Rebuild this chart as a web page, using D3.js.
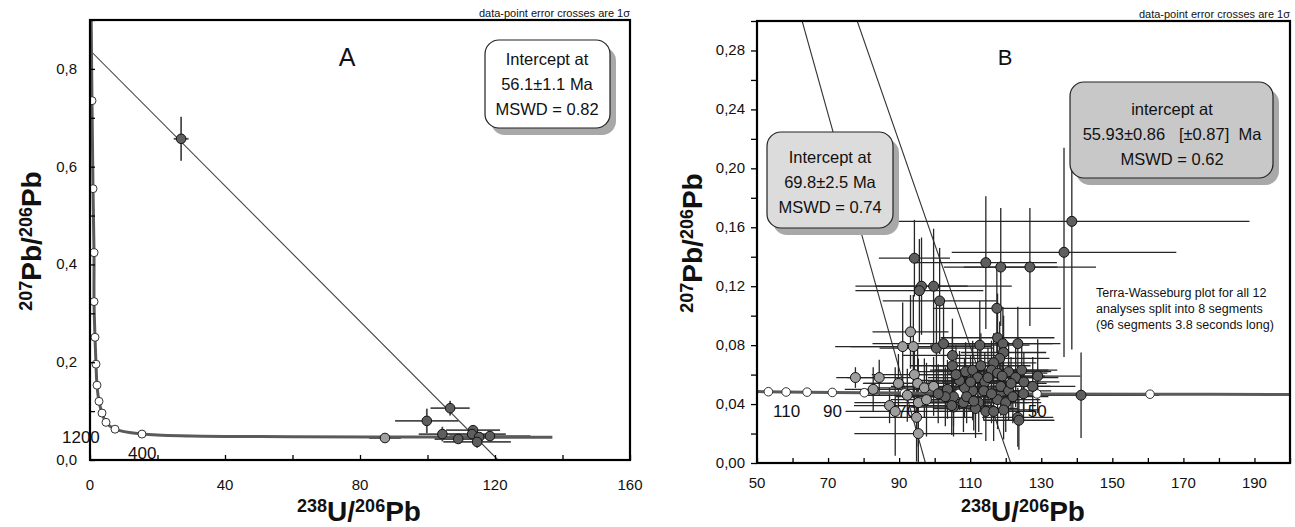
<!DOCTYPE html>
<html>
<head>
<meta charset="utf-8">
<script src="https://cdn.jsdelivr.net/npm/d3@7"></script>
<style>
body { margin: 0; background: #fff; }
svg { display: block; }
text { font-family: "Liberation Sans", Arial, sans-serif; }
</style>
</head>
<body>
<svg id="chart" width="1295" height="527"></svg>
<script>

// ---- panel A ----
var concA_x = [0.35, 0.59, 0.89, 1.19, 1.19, 1.48, 1.78, 2.07, 2.67, 3.56, 4.74, 7.41, 15.4, 30, 60, 100, 137];
var concA_y = [0.90, 0.735, 0.555, 0.424, 0.324, 0.251, 0.196, 0.153, 0.120, 0.096, 0.077, 0.063, 0.053, 0.049, 0.0478, 0.0470, 0.0465];
var concA_mark = [0, 1, 1, 1, 1, 1, 1, 1, 1, 1, 1, 1, 1, 0, 0, 0, 0];

var regA_x = [0, 120.9];
var regA_y = [0.838, 0];

var ptsA_x  = [27.0, 106.7, 99.8, 104.4, 87.4, 109.1, 113.5, 113.2, 115.3, 118.5, 114.7];
var ptsA_y  = [0.657, 0.106, 0.080, 0.053, 0.045, 0.043, 0.061, 0.053, 0.047, 0.049, 0.037];
var ptsA_ex = [2.2, 5.8, 9.4, 7.0, 4.7, 7.0, 8.0, 10.0, 9.0, 12.0, 10.0];
var ptsA_ey = [0.045, 0.015, 0.025, 0.015, 0.004, 0.008, 0.010, 0.010, 0.008, 0.008, 0.012];
var ptsA_light = [0, 0, 0, 0, 1, 0, 0, 0, 0, 0, 0];

// ---- panel B ----
var concB_x = [50, 53.2, 58.2, 64.1, 71.2, 80.2, 91.5, 106.8, 128.8, 160.6, 200];
var concB_y = [0.0485, 0.0484, 0.0482, 0.0481, 0.0479, 0.0477, 0.0475, 0.0472, 0.0469, 0.0467, 0.0465];
var concB_mark = [0, 1, 1, 1, 1, 1, 1, 1, 1, 1, 0];
var concB_lab = ["110", "90", "70", "50"];
var concB_labX = [54.5, 68.6, 89.5, 126.2];
var concB_labY = [0.031, 0.031, 0.031, 0.031];

var regB1_x = [62.7, 97.4];
var regB1_y = [0.30, 0];
var regB2_x = [78.2, 121.4];
var regB2_y = [0.30, 0];

var ptsB_x = [77.7, 84.4, 82.7, 89.8, 92.3, 87.3, 88.9, 94.3, 95.2, 97.1, 99.7, 95.4, 97.7, 94.9, 95.4, 93.2, 91.0, 94.0,
  138.6, 136.4, 94.3, 114.4, 118.6, 126.8, 96.3, 95.7, 99.7, 101.4, 117.5, 117.7, 112.7, 123.4, 119.2, 100.5, 102.5,
  105.0, 105.0, 119.4, 118.3, 116.6, 108.7, 110.7, 112.1, 116.0, 117.7, 120.8, 124.5, 129.0, 122.8, 125.1, 127.6,
  141.2, 114.1, 118.6, 120.8, 113.8, 110.7, 108.4, 105.3, 105.3, 108.1, 112.4, 117.7, 120.0, 111.5, 114.4, 116.6,
  119.4, 123.4, 123.7, 103.6, 104.8, 110.1, 115.0, 121.5, 107.0, 113.0, 119.0, 109.0, 116.0, 122.0, 111.0, 106.0,
  125.0, 103.0, 101.0];
var ptsB_y = [0.058, 0.058, 0.050, 0.054, 0.046, 0.039, 0.035, 0.060, 0.054, 0.051, 0.052, 0.041, 0.043, 0.031, 0.020, 0.089, 0.079, 0.079,
  0.164, 0.143, 0.139, 0.136, 0.133, 0.133, 0.120, 0.117, 0.120, 0.110, 0.105, 0.085, 0.080, 0.081, 0.081, 0.078, 0.081,
  0.073, 0.066, 0.075, 0.071, 0.068, 0.062, 0.063, 0.058, 0.063, 0.061, 0.062, 0.063, 0.059, 0.058, 0.055, 0.052,
  0.046, 0.055, 0.052, 0.049, 0.049, 0.049, 0.051, 0.045, 0.038, 0.041, 0.041, 0.043, 0.041, 0.037, 0.035, 0.035,
  0.036, 0.031, 0.029, 0.050, 0.039, 0.055, 0.058, 0.054, 0.056, 0.066, 0.059, 0.045, 0.047, 0.045, 0.042, 0.060,
  0.047, 0.045, 0.047];
var ptsB_ex = [5.4, 9, 8, 10, 12, 10, 14, 12, 15, 14, 12, 18, 10, 16, 18, 10.7, 14.7, 22,
  50, 31.6, 10, 20, 16, 18.6, 13, 18, 22, 16, 18, 16, 14, 12, 14, 16, 20,
  14, 12, 12, 14, 12, 14, 12, 14, 16, 14, 12, 10, 12, 12, 10, 12,
  22, 12, 14, 12, 12, 14, 12, 14, 12, 14, 14, 12, 10, 12, 14, 12,
  10, 10, 10, 14, 12, 12, 14, 10, 12, 14, 12, 12, 14, 10, 12, 12,
  10, 14, 12];
var ptsB_ey = [0.007, 0.012, 0.015, 0.020, 0.018, 0.012, 0.030, 0.020, 0.025, 0.020, 0.020, 0.030, 0.025, 0.030, 0.030, 0.025, 0.030, 0.035,
  0.087, 0.071, 0.026, 0.045, 0.040, 0.040, 0.033, 0.035, 0.039, 0.036, 0.030, 0.030, 0.030, 0.025, 0.025, 0.030, 0.030,
  0.025, 0.020, 0.025, 0.025, 0.020, 0.020, 0.020, 0.020, 0.020, 0.020, 0.020, 0.020, 0.025, 0.020, 0.020, 0.020,
  0.029, 0.020, 0.020, 0.020, 0.020, 0.020, 0.020, 0.020, 0.020, 0.020, 0.020, 0.020, 0.020, 0.020, 0.020, 0.020,
  0.020, 0.020, 0.020, 0.020, 0.020, 0.018, 0.020, 0.018, 0.020, 0.022, 0.020, 0.018, 0.020, 0.018, 0.020, 0.020,
  0.018, 0.020, 0.020];
var ptsB_light = [1, 1, 1, 1, 1, 1, 1, 1, 1, 1, 1, 1, 1, 1, 1, 1, 1, 1];

var svg = d3.select("#chart");

var DARK = "#5e5e5e", LIGHT = "#9e9e9e";

function zipPts(xs, ys, exs, eys, light) {
	var out = [];
	for (var i = 0; i < xs.length; i++) {
		out.push({x: xs[i], y: ys[i], ex: exs[i], ey: eys[i], light: !!light[i]});
	}
	return out;
}

function fmtComma(spec) {
	var f = d3.format(spec);
	return function(d) { return f(d).replace(".", ","); };
}

function drawFrame(g, x, y, cfg) {
	var x0 = x.range()[0], x1 = x.range()[1], y0 = y.range()[0], y1 = y.range()[1];

	var xMinor = d3.range(cfg.xDom[0], cfg.xDom[1] + 0.0001, cfg.xMinor);
	var yMinor = d3.range(cfg.yDom[0], cfg.yDom[1] + 0.0001, cfg.yMinor);

	// bottom ticks point inward
	g.append("g").attr("transform", "translate(0," + y0 + ")")
		.call(d3.axisBottom(x).tickValues(xMinor).tickSize(-5).tickFormat(""))
		.call(function(a) { a.select(".domain").remove(); a.selectAll("line").attr("stroke", "#000").attr("stroke-width", 1.3); });
	g.append("g").attr("transform", "translate(" + x0 + ",0)")
		.call(d3.axisLeft(y).tickValues(yMinor).tickSize(cfg.yTickIn ? -5 : 6).tickFormat(""))
		.call(function(a) { a.select(".domain").remove(); a.selectAll("line").attr("stroke", "#000").attr("stroke-width", 1.3); });

	g.selectAll("text.xtick").data(cfg.xTicks).enter().append("text")
		.attr("x", function(d) { return x(d); })
		.attr("y", cfg.xLabY)
		.attr("text-anchor", "middle")
		.attr("font-size", 15)
		.attr("fill", "#111")
		.text(cfg.xFmt);

	g.selectAll("text.ytick").data(cfg.yTicks).enter().append("text")
		.attr("x", cfg.yLabX)
		.attr("y", function(d) { return y(d) + 5; })
		.attr("text-anchor", "end")
		.attr("font-size", 15)
		.attr("fill", "#111")
		.text(cfg.yFmt);

	g.append("rect")
		.attr("x", x0).attr("y", y1)
		.attr("width", x1 - x0).attr("height", y0 - y1)
		.attr("fill", "none").attr("stroke", "#000").attr("stroke-width", 2.2);

	g.append("text")
		.attr("x", x1).attr("y", y1 - 3)
		.attr("text-anchor", "end")
		.attr("font-size", 11)
		.attr("fill", "#111")
		.html("data-point error crosses are 1&#963;");

	var yt = g.append("text")
		.attr("transform", "translate(" + cfg.yTitleX + "," + ((y0 + y1) / 2 + 1) + ") rotate(-90)")
		.attr("text-anchor", "middle")
		.attr("font-weight", "bold")
		.attr("fill", "#111");
	yt.append("tspan").attr("font-size", 18).attr("dy", -9).text("207");
	yt.append("tspan").attr("font-size", 28).attr("dy", 9).text("Pb/");
	yt.append("tspan").attr("font-size", 18).attr("dy", -9).text("206");
	yt.append("tspan").attr("font-size", 28).attr("dy", 9).text("Pb");

	var xt = g.append("text")
		.attr("x", cfg.xTitleX).attr("y", 521)
		.attr("text-anchor", "middle")
		.attr("font-weight", "bold")
		.attr("fill", "#111");
	xt.append("tspan").attr("font-size", 18).attr("dy", -9).text("238");
	xt.append("tspan").attr("font-size", 28).attr("dy", 9).text("U/");
	xt.append("tspan").attr("font-size", 18).attr("dy", -9).text("206");
	xt.append("tspan").attr("font-size", 28).attr("dy", 9).text("Pb");
}

function drawBox(g, bx, by, bw, bh, fill, lines, cx, base) {
	g.append("rect")
		.attr("x", bx + 6).attr("y", by + 7)
		.attr("width", bw).attr("height", bh)
		.attr("rx", 14).attr("ry", 14)
		.attr("fill", "#a8a8a8");
	g.append("rect")
		.attr("x", bx).attr("y", by)
		.attr("width", bw).attr("height", bh)
		.attr("rx", 14).attr("ry", 14)
		.attr("fill", fill).attr("stroke", "#222").attr("stroke-width", 1.2);
	g.selectAll(null).data(lines).enter().append("text")
		.attr("x", cx)
		.attr("y", function(d, i) { return base + i * 25; })
		.attr("text-anchor", "middle")
		.attr("font-size", 16.5)
		.attr("fill", "#111")
		.style("white-space", "pre")
		.text(function(d) { return d; });
}

function drawErrors(g, x, y, pts, color, width) {
	var eb = g.append("g").attr("stroke", color).attr("stroke-width", width);
	eb.selectAll("line.h").data(pts).enter().append("line")
		.attr("x1", function(d) { return x(d.x - d.ex); })
		.attr("x2", function(d) { return x(d.x + d.ex); })
		.attr("y1", function(d) { return y(d.y); })
		.attr("y2", function(d) { return y(d.y); });
	eb.selectAll("line.v").data(pts).enter().append("line")
		.attr("x1", function(d) { return x(d.x); })
		.attr("x2", function(d) { return x(d.x); })
		.attr("y1", function(d) { return y(d.y - d.ey); })
		.attr("y2", function(d) { return y(d.y + d.ey); });
}

function drawPoints(g, x, y, pts, r) {
	g.selectAll(null).data(pts).enter().append("circle")
		.attr("cx", function(d) { return x(d.x); })
		.attr("cy", function(d) { return y(d.y); })
		.attr("r", r)
		.attr("fill", function(d) { return d.light ? LIGHT : DARK; })
		.attr("stroke", "#111").attr("stroke-width", 1);
}

function drawConcordia(g, x, y, cx, cy, mark, r) {
	var line = d3.line().curve(d3.curveCatmullRom.alpha(0.5))
		.x(function(d) { return x(d[0]); })
		.y(function(d) { return y(d[1]); });
	var pts = cx.map(function(v, i) { return [v, cy[i]]; });
	g.append("path").attr("d", line(pts))
		.attr("fill", "none").attr("stroke", "#5a5a5a").attr("stroke-width", 3);
	g.selectAll(null).data(pts.filter(function(d, i) { return mark[i]; })).enter().append("circle")
		.attr("cx", function(d) { return x(d[0]); })
		.attr("cy", function(d) { return y(d[1]); })
		.attr("r", r)
		.attr("fill", "#fff").attr("stroke", "#333").attr("stroke-width", 1);
}

function drawReg(g, x, y, xs, ys, color) {
	g.append("line")
		.attr("x1", x(xs[0])).attr("y1", y(ys[0]))
		.attr("x2", x(xs[1])).attr("y2", y(ys[1]))
		.attr("stroke", color).attr("stroke-width", 1.1);
}

// ---------- panel A ----------
var xA = d3.scaleLinear().domain([0, 160]).range([90, 630]);
var yA = d3.scaleLinear().domain([0, 0.9]).range([460, 20]);
var gA = svg.append("g");

svg.append("clipPath").attr("id", "clipA").append("rect")
	.attr("x", 90).attr("y", 20).attr("width", 540).attr("height", 440);
var pA = gA.append("g").attr("clip-path", "url(#clipA)");

drawReg(pA, xA, yA, regA_x, regA_y, "#444");
var ptsA = zipPts(ptsA_x, ptsA_y, ptsA_ex, ptsA_ey, ptsA_light);
drawErrors(pA, xA, yA, ptsA, "#4a4a4a", 1.8);
drawConcordia(pA, xA, yA, concA_x, concA_y, concA_mark, 4);
drawPoints(pA, xA, yA, ptsA, 4.8);

gA.append("text").attr("x", 62).attr("y", 443).attr("font-size", 17).attr("fill", "#111").text("1200");
gA.append("text").attr("x", 128).attr("y", 459).attr("font-size", 17).attr("fill", "#111").text("400");

drawFrame(gA, xA, yA, {
	xDom: [0, 160], yDom: [0, 0.9], xMinor: 20, yMinor: 0.1,
	xTicks: [0, 40, 80, 120, 160], yTicks: [0, 0.2, 0.4, 0.6, 0.8],
	xFmt: d3.format("d"), yFmt: fmtComma(".1f"),
	xLabY: 490, yLabX: 77, yTickIn: true,
	yTitleX: 41, xTitleX: 359
});

gA.append("text").attr("x", 347).attr("y", 66).attr("text-anchor", "middle")
	.attr("font-size", 25).attr("fill", "#111").text("A");

drawBox(gA, 485, 40, 125, 88, "#fff", ["Intercept at", "56.1\u00b11.1 Ma", "MSWD = 0.82"], 547, 65);

// ---------- panel B ----------
var xB = d3.scaleLinear().domain([50, 200]).range([757, 1290]);
var yB = d3.scaleLinear().domain([0, 0.30]).range([463, 21]);
var gB = svg.append("g");

svg.append("clipPath").attr("id", "clipB").append("rect")
	.attr("x", 757).attr("y", 21).attr("width", 533).attr("height", 442);
var pB = gB.append("g").attr("clip-path", "url(#clipB)");

drawReg(pB, xB, yB, regB1_x, regB1_y, "#333");
drawReg(pB, xB, yB, regB2_x, regB2_y, "#333");
var ptsB = zipPts(ptsB_x, ptsB_y, ptsB_ex, ptsB_ey, ptsB_light);
drawErrors(pB, xB, yB, ptsB, "#262626", 1.3);
drawConcordia(pB, xB, yB, concB_x, concB_y, concB_mark, 4.3);

pB.selectAll(null).data(concB_lab).enter().append("text")
	.attr("x", function(d, i) { return xB(concB_labX[i]); })
	.attr("y", function(d, i) { return yB(concB_labY[i]); })
	.attr("font-size", 17).attr("fill", "#111")
	.text(function(d) { return d; });

drawPoints(pB, xB, yB, ptsB, 5);

drawFrame(gB, xB, yB, {
	xDom: [50, 200], yDom: [0, 0.30], xMinor: 10, yMinor: 0.02,
	xTicks: [50, 70, 90, 110, 130, 150, 170, 190], yTicks: [0, 0.04, 0.08, 0.12, 0.16, 0.20, 0.24, 0.28],
	xFmt: d3.format("d"), yFmt: fmtComma(".2f"),
	xLabY: 488, yLabX: 745, yTickIn: false,
	yTitleX: 702, xTitleX: 1023
});

gB.append("text").attr("x", 1005).attr("y", 65).attr("text-anchor", "middle")
	.attr("font-size", 22).attr("fill", "#111").text("B");

drawBox(gB, 767, 132, 126, 96, "#dcdcdc", ["Intercept at", "69.8\u00b12.5 Ma", "MSWD = 0.74"], 830, 163);
drawBox(gB, 1070, 82, 203, 96, "#c8c8c8", ["intercept at", "55.93\u00b10.86   [\u00b10.87]  Ma", "MSWD = 0.62"], 1172, 115);

var note = ["Terra-Wasseburg plot for all 12", "analyses split into 8 segments", "(96 segments 3.8 seconds long)"];
gB.selectAll(null).data(note).enter().append("text")
	.attr("x", 1096)
	.attr("y", function(d, i) { return 297 + i * 16; })
	.attr("font-size", 12.5).attr("fill", "#111")
	.text(function(d) { return d; });

</script>
</body>
</html>
